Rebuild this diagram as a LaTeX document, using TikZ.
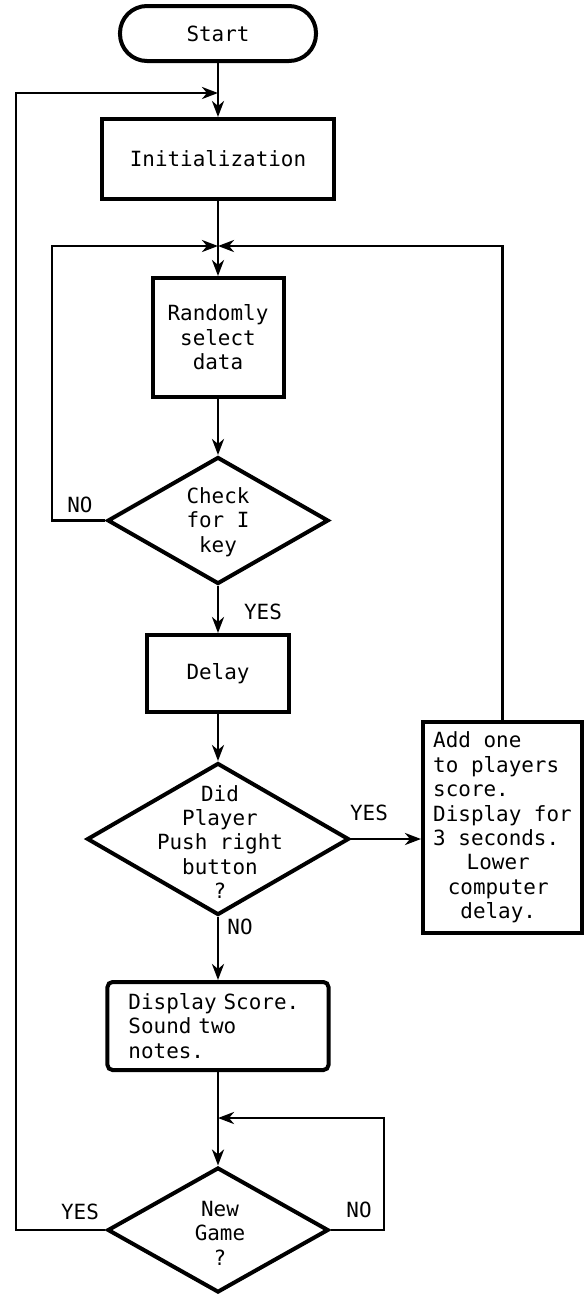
\documentclass[tikz,border=0pt]{standalone}
\usepackage{fontspec}
\setmonofont{DejaVu Sans Mono}
\usetikzlibrary{shapes.geometric,arrows.meta}
\begin{document}
\begin{tikzpicture}[x=1bp,y=-1bp,
  every node/.style={font=\ttfamily\fontsize{21}{24.5}\selectfont},
  box/.style={draw,line width=4bp,align=center,inner sep=0pt},
  dec/.style={draw,diamond,line width=4bp,inner sep=0pt},
  txt/.style={align=center,inner sep=0pt},
  lbl/.style={inner sep=0pt},
  conn/.style={line width=2.8bp},
  arr/.style={conn,-{Stealth[length=16bp,width=12bp,inset=5bp]}}]
\useasboundingbox (0,0) rectangle (587,1294);
% nodes
\node[box,rounded corners=27bp,minimum width=196bp,minimum height=55bp] (start) at (218,33.5) {Start};
\node[box,minimum width=232bp,minimum height=80bp] (init) at (218,159) {Initialization};
\node[box,minimum width=131bp,minimum height=119bp] (rnd) at (218,337.5) {Randomly\\select\\data};
\node[dec,minimum width=221bp,minimum height=127bp] (d1) at (218,520.5) {};
\node[txt] (d1t) at (218,522) {Check\\for I\\key};
\node[box,minimum width=142bp,minimum height=77bp] (delay) at (218,673.5) {Delay};
\node[dec,minimum width=262bp,minimum height=152bp] (d2) at (218,839) {};
\node[txt] (d2t) at (220,842) {Did\\Player\\Push right\\button\\?};
\node[box,minimum width=159bp,minimum height=211bp,align=left] (add) at (502.5,827.5)
  {Add one\\to players\\score.\\Display for\\3 seconds.\\\makebox[130bp]{Lower}\\\makebox[130bp]{computer}\\\makebox[130bp]{delay.}};
\node[box,rounded corners=5bp,minimum width=221bp,minimum height=88bp,align=left,text width=179bp] (disp) at (218,1026)
  {Display Score.\\Sound two\\notes.};
\node[dec,minimum width=221bp,minimum height=125bp] (d3) at (218,1230) {};
\node[txt] (d3t) at (220,1233) {New\\Game\\?};
% junctions
\coordinate (j0) at (218,93);
\coordinate (j1) at (218,246);
\coordinate (j3) at (218,1118);
\coordinate (ol) at (16,93);
\coordinate (il) at (52,246);
\coordinate (nr) at (384,1118);
% connectors
\draw[arr] (start) -- (init);
\draw[arr] (d3.west) -| (ol) -- (j0);
\draw[conn] (init) -- (j1);
\draw[arr] (j1) -- (rnd);
\draw[arr] (d1.west) -| (il) -- (j1);
\draw[arr] (add.north) |- (j1);
\draw[arr] (rnd) -- (d1);
\draw[arr] (d1) -- (delay);
\draw[arr] (delay) -- (d2);
\draw[arr] (d2.east) -- (d2.east -| add.west);
\draw[arr] (d2) -- (disp);
\draw[conn] (disp) -- (j3);
\draw[arr] (j3) -- (d3);
\draw[arr] (d3.east) -| (nr) -- (j3);
% labels
\node[lbl] (no1) at (80,505) {NO};
\node[lbl] (yes1) at (263,612) {YES};
\node[lbl] (yes2) at (369,813) {YES};
\node[lbl] (no2) at (240,927) {NO};
\node[lbl] (yes3) at (80,1212) {YES};
\node[lbl] (no3) at (359,1210) {NO};
\end{tikzpicture}
\end{document}
